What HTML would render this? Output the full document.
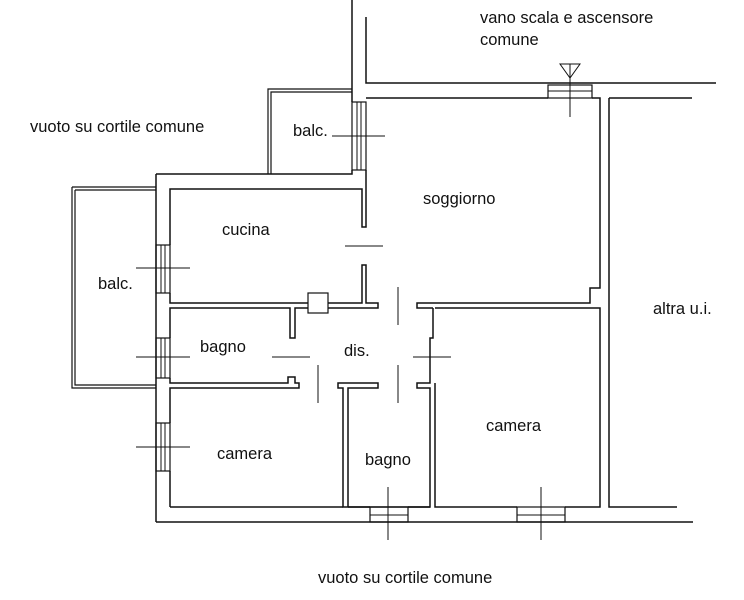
<!DOCTYPE html>
<html><head><meta charset="utf-8"><style>
html,body{margin:0;padding:0;background:#fff;width:744px;height:600px;overflow:hidden}
svg{display:block}
text{font-family:"Liberation Sans",sans-serif;font-size:16.5px;fill:#111}
</style></head><body>
<svg width="744" height="600" viewBox="0 0 744 600" fill="none" stroke="#111" stroke-width="1.5">
<path d="M352 0V102M366 17V83H716M366 98H548M592 98H600V288H590V303H417V308H433"/>
<rect x="548" y="85" width="44" height="13" stroke-width="1.2"/>
<line x1="548" y1="91" x2="592" y2="91" stroke-width="1"/>
<path d="M560 64H580L570 78Z" stroke-width="1"/>
<line x1="570" y1="64" x2="570" y2="117" stroke-width="1"/>
<path d="M433 308V338H430V383H417V388H430V507H343V388H338V383H378V388H348V507"/>
<path d="M435 308H600V507H565M517 507H435V383"/>
<path d="M609 98H692M609 98V507H677"/>
<rect x="517" y="507" width="48" height="15" stroke-width="1.2"/>
<line x1="517" y1="515" x2="565" y2="515" stroke-width="1"/>
<line x1="541" y1="487" x2="541" y2="540" stroke-width="1"/>
<path d="M156 522H693M156 174V522"/>
<rect x="370" y="507" width="38" height="15" stroke-width="1.2"/>
<line x1="370" y1="515" x2="408" y2="515" stroke-width="1"/>
<line x1="388" y1="487" x2="388" y2="540" stroke-width="1"/>
<path d="M170 507H343M348 507H370M408 507H430"/>
<path d="M268 174V89H352M271 174V92H352" stroke-width="1.2"/>
<path d="M156 174H352V170M366 170V227H362V189H170V245"/>
<rect x="352" y="102" width="14" height="68" stroke-width="1.2"/>
<path d="M357 102V170M361 102V170" stroke-width="1"/>
<line x1="332" y1="136" x2="385" y2="136" stroke-width="1"/>
<path d="M72 187H156M72 187V388H156M75 190H156M75 190V385H156" stroke-width="1.2"/>
<rect x="156" y="245" width="14" height="48" stroke-width="1.2"/>
<path d="M161 245V293M165 245V293" stroke-width="1"/>
<line x1="136" y1="268" x2="190" y2="268" stroke-width="1"/>
<rect x="156" y="338" width="14" height="40" stroke-width="1.2"/>
<path d="M161 338V378M165 338V378" stroke-width="1"/>
<line x1="136" y1="357" x2="190" y2="357" stroke-width="1"/>
<rect x="156" y="423" width="14" height="48" stroke-width="1.2"/>
<path d="M161 423V471M165 423V471" stroke-width="1"/>
<line x1="136" y1="447" x2="190" y2="447" stroke-width="1"/>
<path d="M170 293V303H308M328 303H362V265H366V303H378V308H328M308 308H295V338H290V308H170V338"/>
<rect x="308" y="293" width="20" height="20" stroke-width="1.2"/>
<path d="M170 378V383H288V377H295V383H299V388H170V423M170 471V507"/>
<g stroke-width="1">
<line x1="345" y1="246" x2="383" y2="246"/>
<line x1="398" y1="287" x2="398" y2="325"/>
<line x1="398" y1="365" x2="398" y2="403"/>
<line x1="272" y1="357" x2="310" y2="357"/>
<line x1="413" y1="357" x2="451" y2="357"/>
<line x1="318" y1="365" x2="318" y2="403"/>
</g>
<g stroke="none">
<text x="480" y="23">vano scala e ascensore</text>
<text x="480" y="45">comune</text>
<text x="30" y="132">vuoto su cortile comune</text>
<text x="293" y="136">balc.</text>
<text x="423" y="204">soggiorno</text>
<text x="222" y="235">cucina</text>
<text x="98" y="289">balc.</text>
<text x="653" y="314">altra u.i.</text>
<text x="200" y="352">bagno</text>
<text x="344" y="356">dis.</text>
<text x="486" y="431">camera</text>
<text x="217" y="459">camera</text>
<text x="365" y="465">bagno</text>
<text x="318" y="583">vuoto su cortile comune</text>
</g>
</svg>
</body></html>
